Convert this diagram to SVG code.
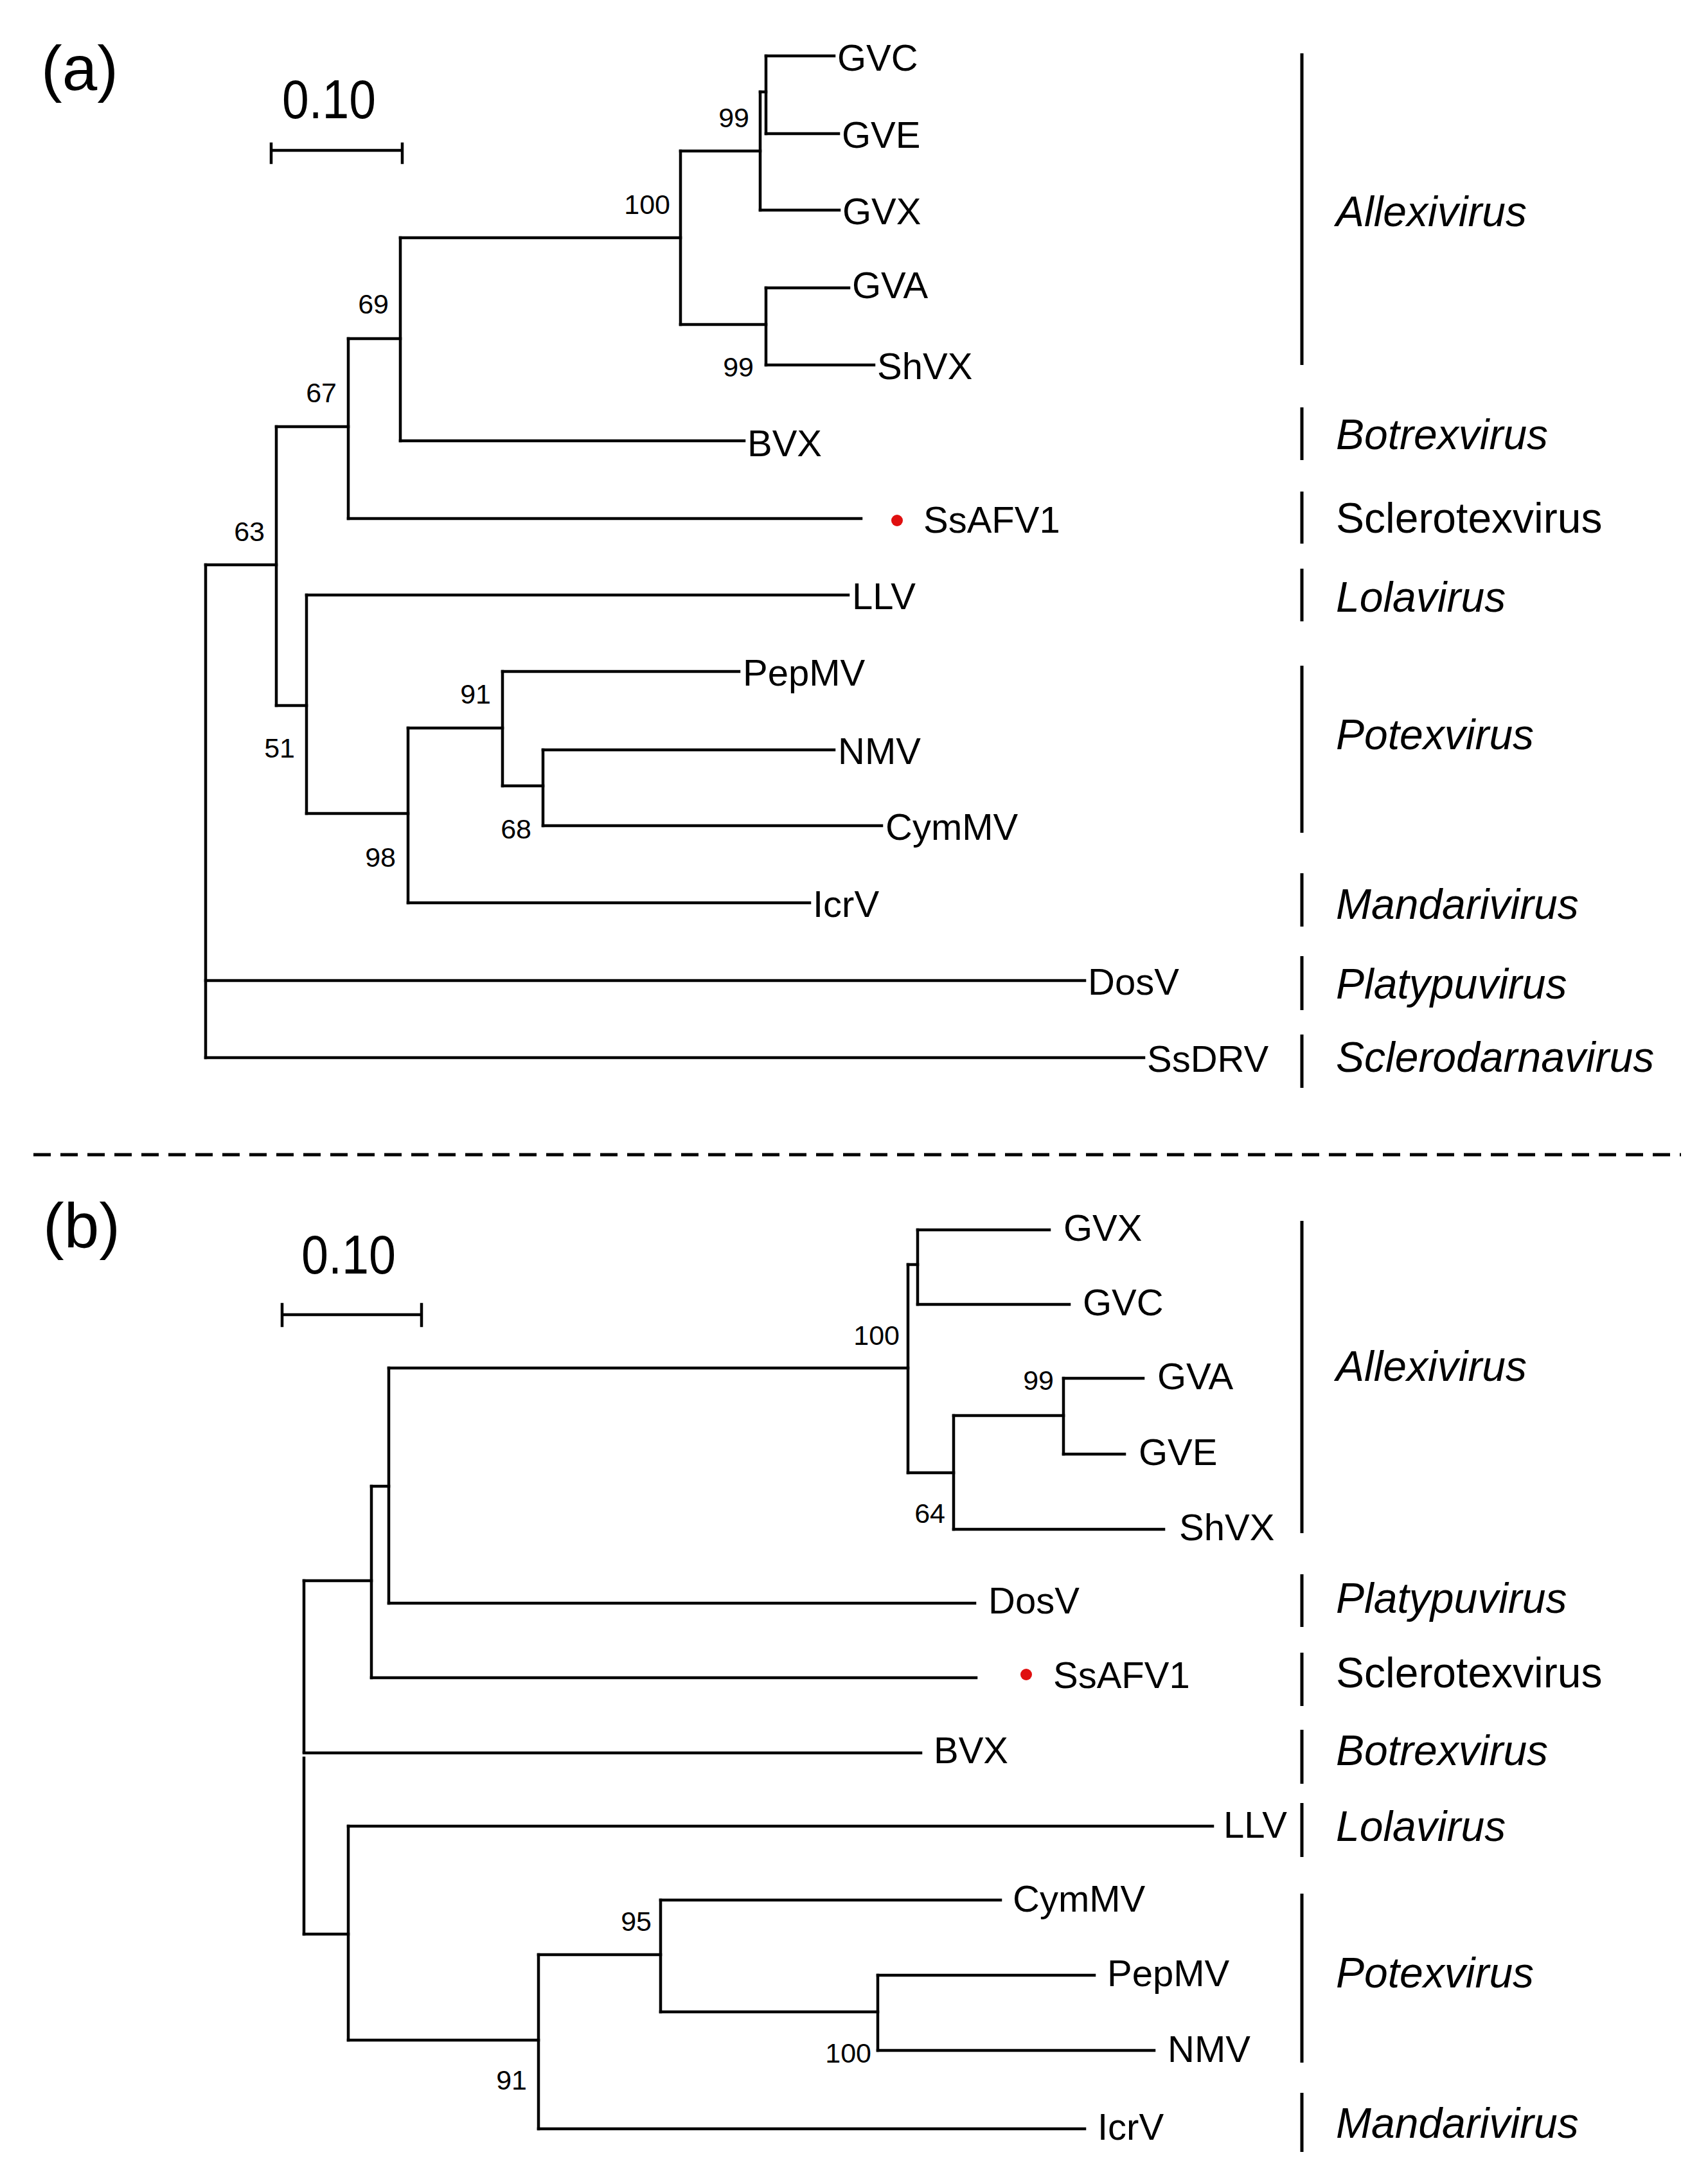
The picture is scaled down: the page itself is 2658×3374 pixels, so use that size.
<svg xmlns="http://www.w3.org/2000/svg" width="2658" height="3374" viewBox="0 0 2658 3374">
<style>
.br{fill:none;stroke:#000;stroke-width:4.5;stroke-linecap:square}
.bar{stroke:#000;stroke-width:5;fill:none}
.tip{font-family:"Liberation Sans",Arial,sans-serif;font-size:58px;fill:#000}
.bs{font-family:"Liberation Sans",Arial,sans-serif;font-size:43px;fill:#000;text-anchor:end}
.gen{font-family:"Liberation Sans",Arial,sans-serif;font-size:66px;fill:#000}
.it{font-style:italic}
.pl{font-family:"Liberation Sans",Arial,sans-serif;font-size:98px;fill:#000}
.sc{font-family:"Liberation Sans",Arial,sans-serif;font-size:86px;fill:#000}
.dot{fill:#e01010}
</style>
<rect width="2658" height="3374" fill="#fff"/>

<g id="panel-a-label"><text class="pl" x="64" y="140">(a)</text></g>
<g id="scale-a">
<text class="sc" x="439" y="184" textLength="146" lengthAdjust="spacingAndGlyphs">0.10</text>
<path class="br" d="M422,234H626M422,224V253M626,224V253" stroke-linecap="butt"/>
</g>
<g id="panel-b-label"><text class="pl" x="67" y="1941">(b)</text></g>
<g id="scale-b">
<text class="sc" x="469" y="1982" textLength="147" lengthAdjust="spacingAndGlyphs">0.10</text>
<path class="br" d="M439,2046H656M439,2030V2063M656,2030V2063" stroke-linecap="butt"/>
</g>

<line id="divider" x1="52" y1="1797" x2="2616" y2="1797" stroke="#000" stroke-width="5" stroke-dasharray="27,15"/>

<g id="connectors-a">
<path class="br" d="M1192,87V208"/>
<path class="br" d="M1183,143H1192"/>
<path class="br" d="M1183,143V327"/>
<path class="br" d="M1059,235H1183"/>
<path class="br" d="M1059,235V505"/>
<path class="br" d="M1059,505H1192"/>
<path class="br" d="M1192,448V568"/>
<path class="br" d="M623,370H1059"/>
<path class="br" d="M623,370V686"/>
<path class="br" d="M542,527H623"/>
<path class="br" d="M542,527V807"/>
<path class="br" d="M430,664H542"/>
<path class="br" d="M430,664V1098"/>
<path class="br" d="M320,879H430"/>
<path class="br" d="M320,879V1646"/>
<path class="br" d="M430,1098H477"/>
<path class="br" d="M477,926V1266"/>
<path class="br" d="M477,1266H635" stroke-width="5.5"/>
<path class="br" d="M635,1133V1405"/>
<path class="br" d="M635,1133H782"/>
<path class="br" d="M782,1045V1223"/>
<path class="br" d="M782,1223H845"/>
<path class="br" d="M845,1167V1285"/>
<path class="br" d="M1192,87H1298"/>
<path class="br" d="M1192,208H1305"/>
<path class="br" d="M1183,327H1306"/>
<path class="br" d="M1192,448H1321"/>
<path class="br" d="M1192,568H1360"/>
<path class="br" d="M623,686H1158"/>
<path class="br" d="M542,807H1340"/>
<path class="br" d="M477,926H1320"/>
<path class="br" d="M782,1045H1150"/>
<path class="br" d="M845,1167H1298"/>
<path class="br" d="M845,1285H1372"/>
<path class="br" d="M635,1405H1260"/>
<path class="br" d="M320,1526H1688"/>
<path class="br" d="M320,1646H1780"/>
</g>

<g id="bootstrap-a">
<text class="bs" x="1166" y="198">99</text>
<text class="bs" x="1043" y="333">100</text>
<text class="bs" x="605" y="488">69</text>
<text class="bs" x="1173" y="586">99</text>
<text class="bs" x="524" y="626">67</text>
<text class="bs" x="412" y="842">63</text>
<text class="bs" x="459" y="1179">51</text>
<text class="bs" x="764" y="1095">91</text>
<text class="bs" x="827" y="1305">68</text>
<text class="bs" x="616" y="1349">98</text>
</g>

<g id="a-GVC"><text class="tip" x="1303" y="110">GVC</text></g>
<g id="a-GVE"><text class="tip" x="1310" y="230">GVE</text></g>
<g id="a-GVX"><text class="tip" x="1311" y="349">GVX</text></g>
<g id="a-GVA"><text class="tip" x="1326" y="464">GVA</text></g>
<g id="a-ShVX"><text class="tip" x="1365" y="590">ShVX</text></g>
<g id="a-BVX"><text class="tip" x="1163" y="710">BVX</text></g>
<g id="a-SsAFV1"><circle class="dot" cx="1396" cy="810" r="9"/><text class="tip" x="1437" y="829">SsAFV1</text></g>
<g id="a-LLV"><text class="tip" x="1326" y="948">LLV</text></g>
<g id="a-PepMV"><text class="tip" x="1156" y="1067">PepMV</text></g>
<g id="a-NMV"><text class="tip" x="1304" y="1189">NMV</text></g>
<g id="a-CymMV"><text class="tip" x="1378" y="1307">CymMV</text></g>
<g id="a-IcrV"><text class="tip" x="1265" y="1427">IcrV</text></g>
<g id="a-DosV"><text class="tip" x="1693" y="1548">DosV</text></g>
<g id="a-SsDRV"><text class="tip" x="1785" y="1668">SsDRV</text></g>

<g id="a-Allexivirus"><line class="bar" x1="2026" y1="83" x2="2026" y2="568"/><text class="gen it" x="2079" y="352">Allexivirus</text></g>
<g id="a-Botrexvirus"><line class="bar" x1="2026" y1="634" x2="2026" y2="716"/><text class="gen it" x="2079" y="699">Botrexvirus</text></g>
<g id="a-Sclerotexvirus"><line class="bar" x1="2026" y1="765" x2="2026" y2="846"/><text class="gen" x="2079" y="829">Sclerotexvirus</text></g>
<g id="a-Lolavirus"><line class="bar" x1="2026" y1="885" x2="2026" y2="967"/><text class="gen it" x="2079" y="952">Lolavirus</text></g>
<g id="a-Potexvirus"><line class="bar" x1="2026" y1="1036" x2="2026" y2="1296"/><text class="gen it" x="2079" y="1166">Potexvirus</text></g>
<g id="a-Mandarivirus"><line class="bar" x1="2026" y1="1359" x2="2026" y2="1442"/><text class="gen it" x="2079" y="1430">Mandarivirus</text></g>
<g id="a-Platypuvirus"><line class="bar" x1="2026" y1="1488" x2="2026" y2="1572"/><text class="gen it" x="2079" y="1554">Platypuvirus</text></g>
<g id="a-Sclerodarnavirus"><line class="bar" x1="2026" y1="1610" x2="2026" y2="1693"/><text class="gen it" x="2079" y="1668">Sclerodarnavirus</text></g>

<g id="connectors-b">
<path class="br" d="M1428,1914V2030"/>
<path class="br" d="M1413,1968H1428"/>
<path class="br" d="M1413,1968V2292"/>
<path class="br" d="M605,2129H1413"/>
<path class="br" d="M1413,2292H1484"/>
<path class="br" d="M1484,2203V2380"/>
<path class="br" d="M1484,2203H1655"/>
<path class="br" d="M1655,2145V2263"/>
<path class="br" d="M605,2129V2495"/>
<path class="br" d="M578,2313H605"/>
<path class="br" d="M578,2313V2611"/>
<path class="br" d="M473,2460H578"/>
<path class="br" d="M473,2460V2726"/>
<path class="br" d="M473,2736V3010"/>
<path class="br" d="M473,3010H542"/>
<path class="br" d="M542,2842V3175"/>
<path class="br" d="M542,3175H838"/>
<path class="br" d="M838,3042V3313"/>
<path class="br" d="M838,3042H1028"/>
<path class="br" d="M1028,2957V3131"/>
<path class="br" d="M1028,3131H1366"/>
<path class="br" d="M1366,3074V3191"/>
<path class="br" d="M1428,1914H1633"/>
<path class="br" d="M1428,2030H1664"/>
<path class="br" d="M1655,2145H1779"/>
<path class="br" d="M1655,2263H1750"/>
<path class="br" d="M1484,2380H1811"/>
<path class="br" d="M605,2495H1517"/>
<path class="br" d="M578,2611H1519"/>
<path class="br" d="M473,2728H1433"/>
<path class="br" d="M542,2842H1887"/>
<path class="br" d="M1028,2957H1557"/>
<path class="br" d="M1366,3074H1703"/>
<path class="br" d="M1366,3191H1796"/>
<path class="br" d="M838,3313H1688"/>
</g>

<g id="bootstrap-b">
<text class="bs" x="1400" y="2093">100</text>
<text class="bs" x="1640" y="2163">99</text>
<text class="bs" x="1471" y="2370">64</text>
<text class="bs" x="1014" y="3005">95</text>
<text class="bs" x="1356" y="3210">100</text>
<text class="bs" x="820" y="3252">91</text>
</g>

<g id="b-GVX"><text class="tip" x="1655" y="1931">GVX</text></g>
<g id="b-GVC"><text class="tip" x="1685" y="2047">GVC</text></g>
<g id="b-GVA"><text class="tip" x="1801" y="2162">GVA</text></g>
<g id="b-GVE"><text class="tip" x="1772" y="2280">GVE</text></g>
<g id="b-ShVX"><text class="tip" x="1835" y="2397">ShVX</text></g>
<g id="b-DosV"><text class="tip" x="1538" y="2511">DosV</text></g>
<g id="b-SsAFV1"><circle class="dot" cx="1597" cy="2606" r="9"/><text class="tip" x="1639" y="2627">SsAFV1</text></g>
<g id="b-BVX"><text class="tip" x="1453" y="2744">BVX</text></g>
<g id="b-LLV"><text class="tip" x="1904" y="2860">LLV</text></g>
<g id="b-CymMV"><text class="tip" x="1576" y="2975">CymMV</text></g>
<g id="b-PepMV"><text class="tip" x="1723" y="3091">PepMV</text></g>
<g id="b-NMV"><text class="tip" x="1817" y="3209">NMV</text></g>
<g id="b-IcrV"><text class="tip" x="1708" y="3330">IcrV</text></g>

<g id="b-Allexivirus"><line class="bar" x1="2026" y1="1900" x2="2026" y2="2386"/><text class="gen it" x="2079" y="2149">Allexivirus</text></g>
<g id="b-Platypuvirus"><line class="bar" x1="2026" y1="2450" x2="2026" y2="2532"/><text class="gen it" x="2079" y="2510">Platypuvirus</text></g>
<g id="b-Sclerotexvirus"><line class="bar" x1="2026" y1="2572" x2="2026" y2="2655"/><text class="gen" x="2079" y="2626">Sclerotexvirus</text></g>
<g id="b-Botrexvirus"><line class="bar" x1="2026" y1="2692" x2="2026" y2="2776"/><text class="gen it" x="2079" y="2747">Botrexvirus</text></g>
<g id="b-Lolavirus"><line class="bar" x1="2026" y1="2806" x2="2026" y2="2890"/><text class="gen it" x="2079" y="2865">Lolavirus</text></g>
<g id="b-Potexvirus"><line class="bar" x1="2026" y1="2947" x2="2026" y2="3210"/><text class="gen it" x="2079" y="3093">Potexvirus</text></g>
<g id="b-Mandarivirus"><line class="bar" x1="2026" y1="3257" x2="2026" y2="3349"/><text class="gen it" x="2079" y="3327">Mandarivirus</text></g>
</svg>
